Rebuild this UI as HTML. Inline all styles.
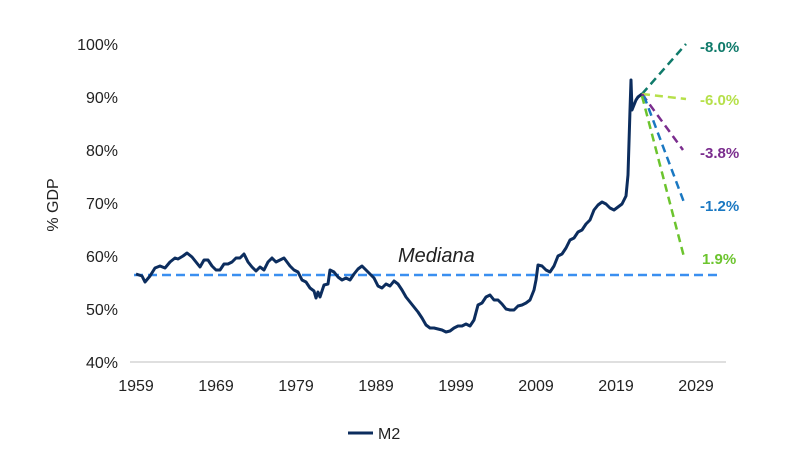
<!DOCTYPE html>
<html><head><meta charset="utf-8"><style>body{margin:0;background:#fff}svg{display:block;font-family:"Liberation Sans",sans-serif}</style></head><body>
<svg width="800" height="472" xmlns="http://www.w3.org/2000/svg">
<g font-size="16" fill="#222" text-anchor="end">
<text x="118" y="50">100%</text><text x="118" y="103">90%</text><text x="118" y="156">80%</text><text x="118" y="209">70%</text><text x="118" y="262">60%</text><text x="118" y="315">50%</text><text x="118" y="368">40%</text>
</g>
<text transform="translate(58,205) rotate(-90)" font-size="16" fill="#222" text-anchor="middle">% GDP</text>
<line x1="130" y1="362" x2="726" y2="362" stroke="#bfbfbf" stroke-width="1"/>
<g font-size="16" fill="#222" text-anchor="middle">
<text x="136" y="391">1959</text><text x="216" y="391">1969</text><text x="296" y="391">1979</text><text x="376" y="391">1989</text><text x="456" y="391">1999</text><text x="536" y="391">2009</text><text x="616" y="391">2019</text><text x="696" y="391">2029</text>
</g>
<line x1="134" y1="275" x2="720" y2="275" stroke="#3a8ff0" stroke-width="2.5" stroke-dasharray="9,5"/>
<text x="398" y="262" font-size="20" font-style="italic" fill="#222">Mediana</text>
<polyline fill="none" stroke="#0c2d5e" stroke-width="3" stroke-linejoin="round" points="136,274 142,276 145,282 150,276 155,268 160,266 165,268 170,262 175,258 178,259 183,256 187,253 192,257 196,262 200,267 204,260 208,260 212,266 216,270 220,270 224,264 228,264 232,262 236,258 240,258 244,254 248,262 252,267 256,271 260,267 264,270 268,262 272,258 276,262 280,260 284,258 290,266 294,270 298,272 302,280 306,282 310,288 314,291 316,298 318,292 320,297 324,285 328,284 330,270 334,272 338,277 342,280 346,278 350,280 354,274 358,269 362,266 366,270 370,274 374,278 378,286 382,288 386,284 390,286 394,281 398,284 402,290 406,297 410,302 414,307 418,312 422,318 426,325 430,328 434,328 438,329 442,330 446,332 450,331 454,328 458,326 462,326 466,324 470,326 474,320 478,305 482,303 486,297 490,295 494,300 498,300 502,304 506,309 510,310 514,310 518,306 522,305 526,303 530,300 534,290 536,280 538,265 542,266 546,270 550,272 554,266 558,256 562,254 566,248 570,240 574,238 578,232 582,230 586,224 590,220 594,210 598,205 602,202 606,204 610,208 614,210 618,207 622,204 626,196 628,175 630,110 631,80 632,110 634,105 636,100 638,97 642,94"/>
<g stroke-width="2.5" stroke-dasharray="8,5" fill="none">
<line x1="642" y1="94" x2="686" y2="44" stroke="#0f7a6a"/>
<line x1="642" y1="94" x2="686" y2="99" stroke="#b6e04a"/>
<line x1="642" y1="94" x2="683" y2="150" stroke="#7b2d8e"/>
<line x1="644" y1="96" x2="685" y2="205" stroke="#1a78c2"/>
<line x1="642" y1="96" x2="684" y2="257" stroke="#6cc42e"/>
</g>
<g font-size="15" font-weight="bold">
<text x="700" y="52" fill="#0f7a6a">-8.0%</text>
<text x="700" y="105" fill="#b6e04a">-6.0%</text>
<text x="700" y="158" fill="#7b2d8e">-3.8%</text>
<text x="700" y="211" fill="#1a78c2">-1.2%</text>
<text x="702" y="264" fill="#6cc42e">1.9%</text>
</g>
<line x1="348" y1="433" x2="373" y2="433" stroke="#0c2d5e" stroke-width="3"/>
<text x="378" y="439" font-size="16" fill="#222">M2</text>
</svg>
</body></html>
